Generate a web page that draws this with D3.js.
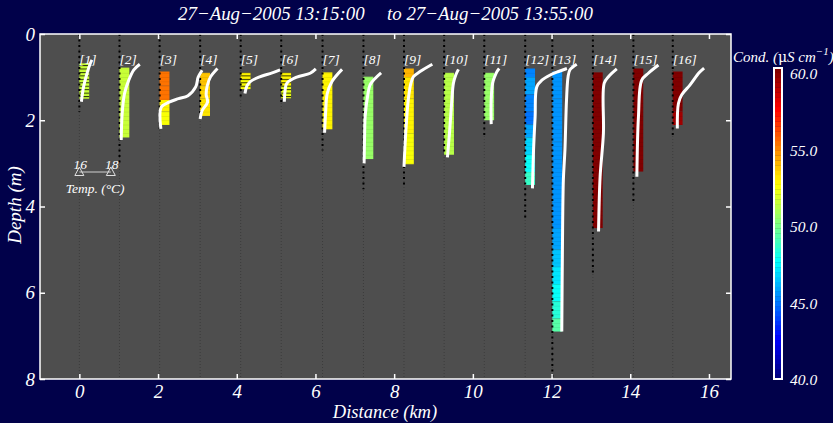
<!DOCTYPE html>
<html><head><meta charset="utf-8">
<script src="https://cdn.jsdelivr.net/npm/d3@7"></script>
<style>
html,body{margin:0;padding:0;background:#01014a;}
svg{display:block;}
text{font-family:"Liberation Serif","DejaVu Serif",serif;font-style:italic;fill:#fff;}
</style></head><body>
<svg id="chart" width="833" height="423"></svg>
<script>
// ---------------- data ----------------
const stationLabels = ["[1]","[2]","[3]","[4]","[5]","[6]","[7]","[8]","[9]","[10]","[11]","[12]","[13]","[14]","[15]","[16]"];
const stationKm = [0, 1.02, 2.04, 3.07, 4.10, 5.13, 6.18, 7.22, 8.25, 9.27, 10.29, 11.33, 12.02, 13.05, 14.08, 15.08];
// depth reached by the station marker (m)
const castDepth = [1.8, 3.0, 2.2, 2.0, 1.5, 1.6, 2.7, 3.6, 3.55, 2.75, 2.4, 4.3, 8.0, 5.55, 3.9, 2.4];
// stations with fine black cell lines
const fineCells = [true,false,false,false,true,true,false,false,false,false,false,false,false,false,false,false];
// conductivity (µS/cm) segments per station: [top depth, bottom depth, value]
const cond1  = [[0.68,1.50,51.3]];
const cond2  = [[0.78,2.40,51.4]];
const cond3  = [[0.87,1.20,55.3],[1.20,1.53,55.0],[1.53,1.80,52.8],[1.80,2.11,52.3]];
const cond4  = [[0.90,1.20,53.6],[1.20,1.50,53.3],[1.50,1.90,52.9]];
const cond5  = [[0.90,1.05,52.6],[1.05,1.28,52.2]];
const cond6  = [[0.90,1.20,52.6],[1.20,1.49,52.0]];
const cond7  = [[0.89,2.21,52.8]];
const cond8  = [[0.99,2.90,50.4]];
const cond9  = [[0.80,1.00,53.8],[1.00,1.50,52.9],[1.50,2.30,52.6],[2.30,3.02,52.3]];
const cond10 = [[0.90,2.80,51.2]];
const cond11 = [[0.90,2.00,50.6]];
const cond12 = [[0.80,1.00,45.3],[1.00,1.40,45.8],[1.40,1.80,45.3],[1.80,2.10,44.9],[2.10,2.40,45.9],[2.40,2.80,46.8],[2.80,3.20,47.8],[3.20,3.50,48.6]];
const cond13 = [[0.87,1.50,45.6],[1.50,2.50,45.4],[2.50,3.50,45.5],[3.50,4.50,45.6],[4.50,5.00,45.9],[5.00,5.40,46.4],[5.40,5.80,47.0],[5.80,6.20,47.6],[6.20,6.60,48.3],[6.60,6.90,49.2]];
const cond14 = [[0.89,4.50,59.8]];
const cond15 = [[0.80,3.19,59.8]];
const cond16 = [[0.87,1.80,59.8],[1.80,2.11,59.3]];
const condSegments = [cond1,cond2,cond3,cond4,cond5,cond6,cond7,cond8,cond9,cond10,cond11,cond12,cond13,cond14,cond15,cond16];
// temperature profiles (°C): [depth, temp]
const temp1  = [[1.57,16.13],[1.22,16.27],[0.91,16.49],[0.68,16.70],[0.60,16.80]];
const temp2  = [[2.46,16.11],[1.84,16.17],[1.38,16.32],[1.07,16.59],[0.83,16.91],[0.70,17.29]];
const temp3  = [[2.20,16.08],[1.70,16.10],[1.58,16.60],[1.50,17.20],[1.43,17.80],[1.22,18.30],[1.00,18.45],[0.84,18.70]];
const temp4  = [[1.97,16.00],[1.78,16.12],[1.58,16.47],[1.40,16.38],[1.20,16.45],[1.00,16.65],[0.80,17.10]];
const temp5  = [[1.38,16.27],[1.20,16.40],[1.10,16.63],[1.00,17.16],[0.90,18.00],[0.83,18.50]];
const temp6  = [[1.57,16.20],[1.30,16.25],[1.14,16.36],[1.00,16.99],[0.91,17.84],[0.81,18.20]];
const temp7  = [[2.29,16.13],[1.80,16.20],[1.38,16.30],[1.10,16.60],[0.82,17.24]];
const temp8  = [[3.00,16.04],[2.40,16.07],[1.90,16.11],[1.40,16.28],[1.18,16.42],[1.03,16.74],[0.90,17.12]];
const temp9  = [[3.08,16.00],[2.30,16.11],[1.53,16.27],[1.14,16.44],[0.99,16.60],[0.87,17.02],[0.70,17.80]];
const temp10 = [[2.86,16.21],[2.30,16.34],[1.53,16.49],[1.14,16.59],[0.95,16.74],[0.82,16.91]];
const temp11 = [[2.09,16.44],[1.53,16.44],[1.14,16.53],[0.99,16.66],[0.87,16.81],[0.80,16.95]];
const temp12 = [[3.58,16.46],[2.69,16.53],[1.92,16.63],[1.22,16.74],[1.07,17.06],[0.95,17.59],[0.87,18.12],[0.80,18.65]];
const temp13 = [[6.90,16.60],[5.00,16.64],[3.38,16.70],[2.69,16.80],[1.53,16.90],[0.99,17.00],[0.83,17.12],[0.70,17.55]];
const temp14 = [[4.58,16.36],[3.31,16.46],[2.30,16.67],[1.14,16.72],[0.99,16.99],[0.81,17.52]];
const temp15 = [[3.31,16.22],[1.92,16.32],[1.07,16.53],[0.91,16.95],[0.72,17.59]];
const temp16 = [[2.19,16.29],[1.61,16.36],[1.41,16.57],[1.18,17.10],[0.90,17.67],[0.79,17.99]];
const tempProfiles = [temp1,temp2,temp3,temp4,temp5,temp6,temp7,temp8,temp9,temp10,temp11,temp12,temp13,temp14,temp15,temp16];

const xTicks = [0,2,4,6,8,10,12,14,16];
const yTicks = [0,2,4,6,8];
const cbarTicks = [40,45,50,55,60];
const legendTemps = [16,18];
const titleParts = ["27\u2212Aug\u22122005 13:15:00", "to", "27\u2212Aug\u22122005 13:55:00"];

// ---------------- layout ----------------
const L = 40, R = 731, T = 34, B = 379;
const tempRef = 16, kmPerDeg = 0.4, barKm = 0.25;
const svg = d3.select("#chart");
svg.append("rect").attr("width",833).attr("height",423).attr("fill","#01014a");

const x = d3.scaleLinear().domain([-1,16.56]).range([L,R]);
const y = d3.scaleLinear().domain([0,8]).range([T,B]);

function jet(t){
  const c = v => Math.max(0, Math.min(1, v));
  const r = c(1.5 - Math.abs(4*t-3)), g = c(1.5 - Math.abs(4*t-2)), b = c(1.5 - Math.abs(4*t-1));
  return d3.rgb(r*255, g*255, b*255);
}
const nColors = 64;
const condColor = v => {
  let i = Math.floor((v-40)/20*nColors); i = Math.max(0, Math.min(nColors-1, i));
  return jet(i/(nColors-1));
};

const defs = svg.append("defs");
defs.append("clipPath").attr("id","plotclip").append("rect")
  .attr("x",L).attr("y",T).attr("width",R-L).attr("height",B-T);
const cellH = y(0.1)-y(0), fineH = y(0.08)-y(0);
const p1 = defs.append("pattern").attr("id","cells").attr("patternUnits","userSpaceOnUse")
  .attr("x",0).attr("y",y(0)).attr("width",20).attr("height",cellH);
p1.append("rect").attr("x",0).attr("y",0).attr("width",20).attr("height",0.8).attr("fill","rgba(0,0,0,0.08)");
const p2 = defs.append("pattern").attr("id","cellsFine").attr("patternUnits","userSpaceOnUse")
  .attr("x",0).attr("y",y(0)).attr("width",20).attr("height",fineH);
p2.append("rect").attr("x",0).attr("y",0).attr("width",20).attr("height",1).attr("fill","rgba(0,0,0,0.8)");

svg.append("rect").attr("x",L).attr("y",T).attr("width",R-L).attr("height",B-T).attr("fill","#4e4e4e");

const plot = svg.append("g").attr("clip-path","url(#plotclip)");

// faint station lines
plot.selectAll("line.faint").data(stationKm).join("line").attr("class","faint")
  .attr("x1",d=>x(d)).attr("x2",d=>x(d)).attr("y1",y(0)).attr("y2",y(8))
  .attr("stroke","#3c3c3c").attr("stroke-width",1).attr("stroke-dasharray","1,2");

// conductivity bars
stationKm.forEach((km,i)=>{
  const g = plot.append("g");
  const segs = condSegments[i];
  g.selectAll("rect.seg").data(segs).join("rect")
    .attr("x",x(km)).attr("width",x(km+barKm)-x(km))
    .attr("y",d=>y(d[0])).attr("height",d=>y(d[1])-y(d[0]))
    .attr("fill",d=>condColor(d[2]));
  const top = d3.min(segs,d=>d[0]), bot = d3.max(segs,d=>d[1]);
  g.append("rect").attr("x",x(km)).attr("width",x(km+barKm)-x(km))
    .attr("y",y(top)).attr("height",y(bot)-y(top))
    .attr("fill", fineCells[i] ? "url(#cellsFine)" : "url(#cells)");
});

// bold station markers
plot.selectAll("line.bold").data(stationKm).join("line").attr("class","bold")
  .attr("x1",d=>x(d)).attr("x2",d=>x(d)).attr("y1",y(0)).attr("y2",(d,i)=>y(castDepth[i]))
  .attr("stroke","#000").attr("stroke-width",2).attr("stroke-dasharray","2,3.5");

// temperature lines
stationKm.forEach((km,i)=>{
  const line = d3.line()
    .x(d=>x(km + (d[1]-tempRef)*kmPerDeg)).y(d=>y(d[0]))
    .curve(d3.curveCatmullRom.alpha(0.5));
  plot.append("path").attr("d",line(tempProfiles[i]))
    .attr("fill","none").attr("stroke","#fff").attr("stroke-width",3)
    .attr("stroke-linejoin","round");
});

// station labels
plot.selectAll("text.lab").data(stationKm).join("text").attr("class","lab")
  .attr("x",d=>x(d)).attr("y",64).attr("font-size",13.5).text((d,i)=>stationLabels[i]);

// temperature legend
const ly = y(3.2);
const lg = plot.append("g");
lg.append("line").attr("x1",x(0)).attr("x2",x((legendTemps[1]-tempRef)*kmPerDeg)).attr("y1",ly).attr("y2",ly)
  .attr("stroke","#d0d0d0").attr("stroke-width",1);
legendTemps.forEach(t=>{
  const lx = x((t-tempRef)*kmPerDeg);
  lg.append("path").attr("d",`M${lx},${ly-5}L${lx-4.5},${ly+3.5}L${lx+4.5},${ly+3.5}Z`)
    .attr("fill","none").attr("stroke","#e0e0e0").attr("stroke-width",1);
  lg.append("text").attr("x",lx+1).attr("y",ly-3).attr("text-anchor","middle").attr("font-size",13.5).text(t);
});
lg.append("text").attr("x",x(0.4)).attr("y",ly+21).attr("text-anchor","middle").attr("font-size",13.5).text("Temp. (\u00B0C)");

// frame
svg.append("rect").attr("x",L).attr("y",T).attr("width",R-L).attr("height",B-T)
  .attr("fill","none").attr("stroke","#fff").attr("stroke-width",1.5);

// axes
function styleAxis(g, fs){
  g.select(".domain").remove();
  g.selectAll(".tick line").attr("stroke","#fff").attr("stroke-width",1.5);
  g.selectAll(".tick text").attr("fill","#fff").attr("font-size",fs)
    .attr("font-family",'"Liberation Serif","DejaVu Serif",serif').attr("font-style","italic");
}
const gx = svg.append("g").attr("transform",`translate(0,${B})`)
  .call(d3.axisBottom(x).tickValues(xTicks).tickSize(-5).tickPadding(6).tickFormat(d3.format("d")));
styleAxis(gx,19);
const gxt = svg.append("g").attr("transform",`translate(0,${T})`)
  .call(d3.axisTop(x).tickValues(xTicks).tickSize(-5).tickFormat(""));
styleAxis(gxt,19);
const gy = svg.append("g").attr("transform",`translate(${L},0)`)
  .call(d3.axisLeft(y).tickValues(yTicks).tickSize(-5).tickPadding(5).tickFormat(d3.format("d")));
styleAxis(gy,19);
const gyr = svg.append("g").attr("transform",`translate(${R},0)`)
  .call(d3.axisRight(y).tickValues(yTicks).tickSize(-5).tickFormat(""));
styleAxis(gyr,19);

// axis titles
svg.append("text").attr("x",385).attr("y",418).attr("text-anchor","middle").attr("font-size",18.5).text("Distance (km)");
svg.append("text").attr("transform","translate(21,205) rotate(-90)").attr("text-anchor","middle").attr("font-size",19).text("Depth (m)");

// title
svg.append("text").attr("x",178).attr("y",20).attr("font-size",18.9).text(titleParts[0]);
svg.append("text").attr("x",387).attr("y",20).attr("font-size",18.9).text(titleParts[1]);
svg.append("text").attr("x",593).attr("y",20).attr("text-anchor","end").attr("font-size",18.9).text(titleParts[2]);

// colorbar
const cbX = 774, cbW = 8, cbTop = 68, cbBot = 379;
const cb = d3.scaleLinear().domain([40,60.3]).range([cbBot,cbTop]);
const bandH = (cbBot-cbTop)/nColors;
svg.append("g").selectAll("rect").data(d3.range(nColors)).join("rect")
  .attr("x",cbX).attr("width",cbW).attr("y",i=>cbBot-(i+1)*bandH).attr("height",bandH+0.3)
  .attr("fill",i=>jet(i/(nColors-1)));
svg.append("rect").attr("x",cbX).attr("y",cbTop).attr("width",cbW).attr("height",cbBot-cbTop)
  .attr("fill","none").attr("stroke","#fff").attr("stroke-width",2);
svg.selectAll("text.cbt").data(cbarTicks).join("text").attr("class","cbt")
  .attr("x",790).attr("y",d=>cb(d)+1).attr("dy","0.35em").attr("font-size",15.5).text(d=>d.toFixed(1));
const ct = svg.append("text").attr("x",733).attr("y",62).attr("font-size",15);
ct.append("tspan").text("Cond. (");
ct.append("tspan").attr("font-style","normal").attr("font-family","DejaVu Serif, serif").attr("font-size",14).text("\u03BC");
ct.append("tspan").text("S cm");
ct.append("tspan").attr("dy",-7).attr("font-size",11).text("\u22121");
ct.append("tspan").attr("dy",7).text(")");
</script>
</body></html>
